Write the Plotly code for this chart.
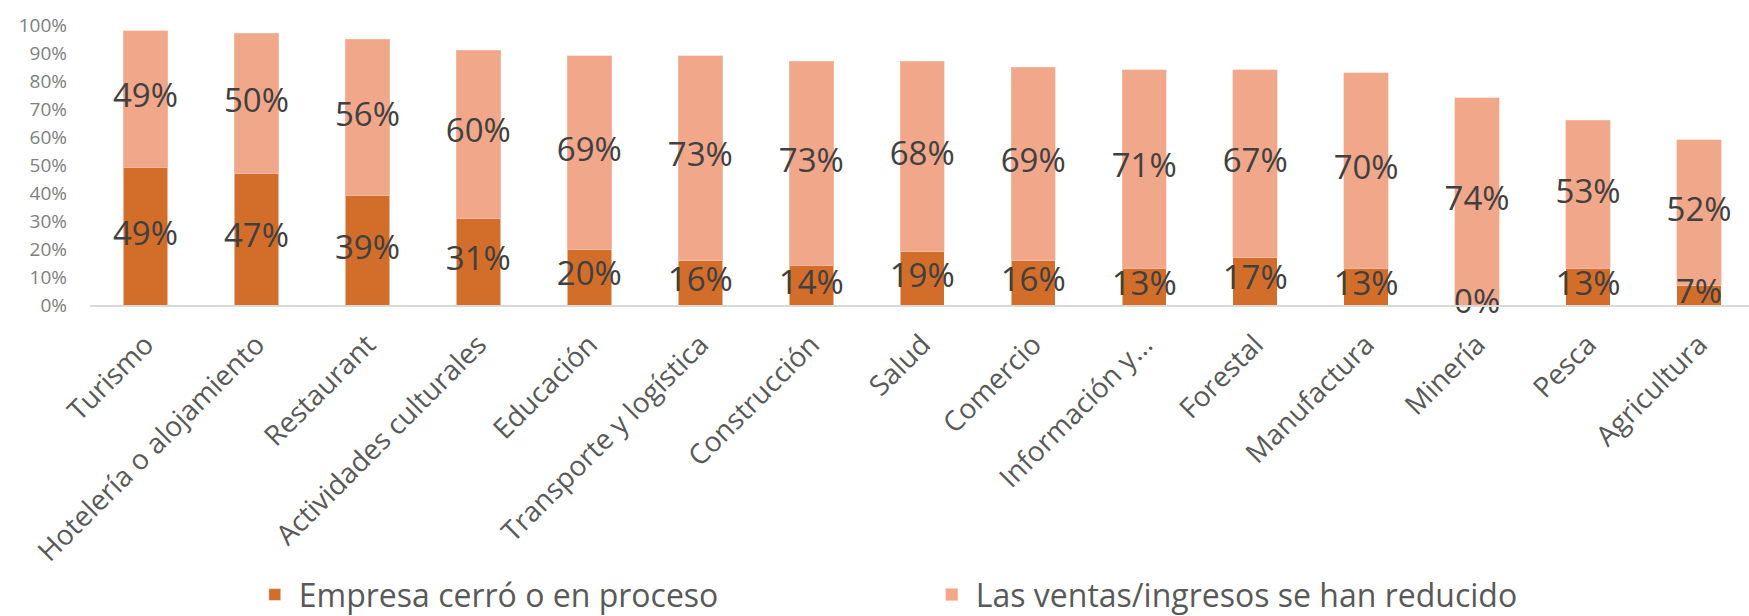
import plotly.graph_objects as go

sectores = ["Turismo", "Hotelería o alojamiento", "Restaurant", "Actividades culturales",
            "Educación", "Transporte y logística", "Construcción", "Salud", "Comercio",
            "Información y...", "Forestal", "Manufactura", "Minería", "Pesca", "Agricultura"]
cerro = [49, 47, 39, 31, 20, 16, 14, 19, 16, 13, 17, 13, 0, 13, 7]
reducido = [49, 50, 56, 60, 69, 73, 73, 68, 69, 71, 67, 70, 74, 53, 52]

color_cerro = '#D36E2A'
color_reducido = '#F1A78A'
label_color = '#404040'
font_family = 'Open Sans'

idx = list(range(len(sectores)))
cerro_f = [v / 100 for v in cerro]
reducido_f = [v / 100 for v in reducido]

bar_cerro = go.Bar(
    x=idx, y=cerro_f, name="Empresa cerró o en proceso",
    marker=dict(color=color_cerro, line=dict(color='white', width=0.5)),
    hoverinfo='skip')
bar_reducido = go.Bar(
    x=idx, y=reducido_f, name="Las ventas/ingresos se han reducido",
    marker=dict(color=color_reducido, line=dict(color='#F6C6B2', width=0.5)),
    hoverinfo='skip')

# data labels at the middle of each segment
txt_cerro = go.Scatter(
    x=idx, y=[v / 2 for v in cerro_f], mode='text',
    text=[f"{v}%" for v in cerro], showlegend=False, cliponaxis=False,
    textfont=dict(size=33, color=label_color, family=font_family), hoverinfo='skip')
txt_reducido = go.Scatter(
    x=idx, y=[c + r / 2 for c, r in zip(cerro_f, reducido_f)], mode='text',
    text=[f"{v}%" for v in reducido], showlegend=False, cliponaxis=False,
    textfont=dict(size=33, color=label_color, family=font_family), hoverinfo='skip')

layout = go.Layout(
    width=1749, height=616,
    margin=dict(l=90, r=0, t=25, b=311, autoexpand=False),
    barmode='stack', bargap=0.6,
    paper_bgcolor='white', plot_bgcolor='white',
    font=dict(family=font_family, color=label_color),
    xaxis=dict(tickmode='array', tickvals=idx, ticktext=sectores,
               range=[-0.5, 14.45], tickangle=-45, showgrid=False,
               showline=True, linecolor='#D9D9D9', linewidth=2,
               tickfont=dict(size=28, color='#595959'), ticks='',
               ticklabelstandoff=10, zeroline=False, automargin=False),
    yaxis=dict(range=[0, 1], tickformat='.0%', dtick=0.1, showgrid=False,
               zeroline=False, tickfont=dict(size=19, color='#808080'),
               ticks='', ticklabelstandoff=22, automargin=False),
    legend=dict(orientation='h', x=0.505, xanchor='center', y=-1.035, yanchor='middle',
                font=dict(size=32, color='#595959'), entrywidth=624, itemwidth=38,
                traceorder='normal'),
)

fig = go.Figure(data=[bar_cerro, bar_reducido, txt_cerro, txt_reducido], layout=layout)
# drop the default page margin so the chart sits at the window corner
fig.write_html("out.html", config={'displayModeBar': False},
               post_script="document.body.style.margin='0';document.body.style.overflow='hidden';")
